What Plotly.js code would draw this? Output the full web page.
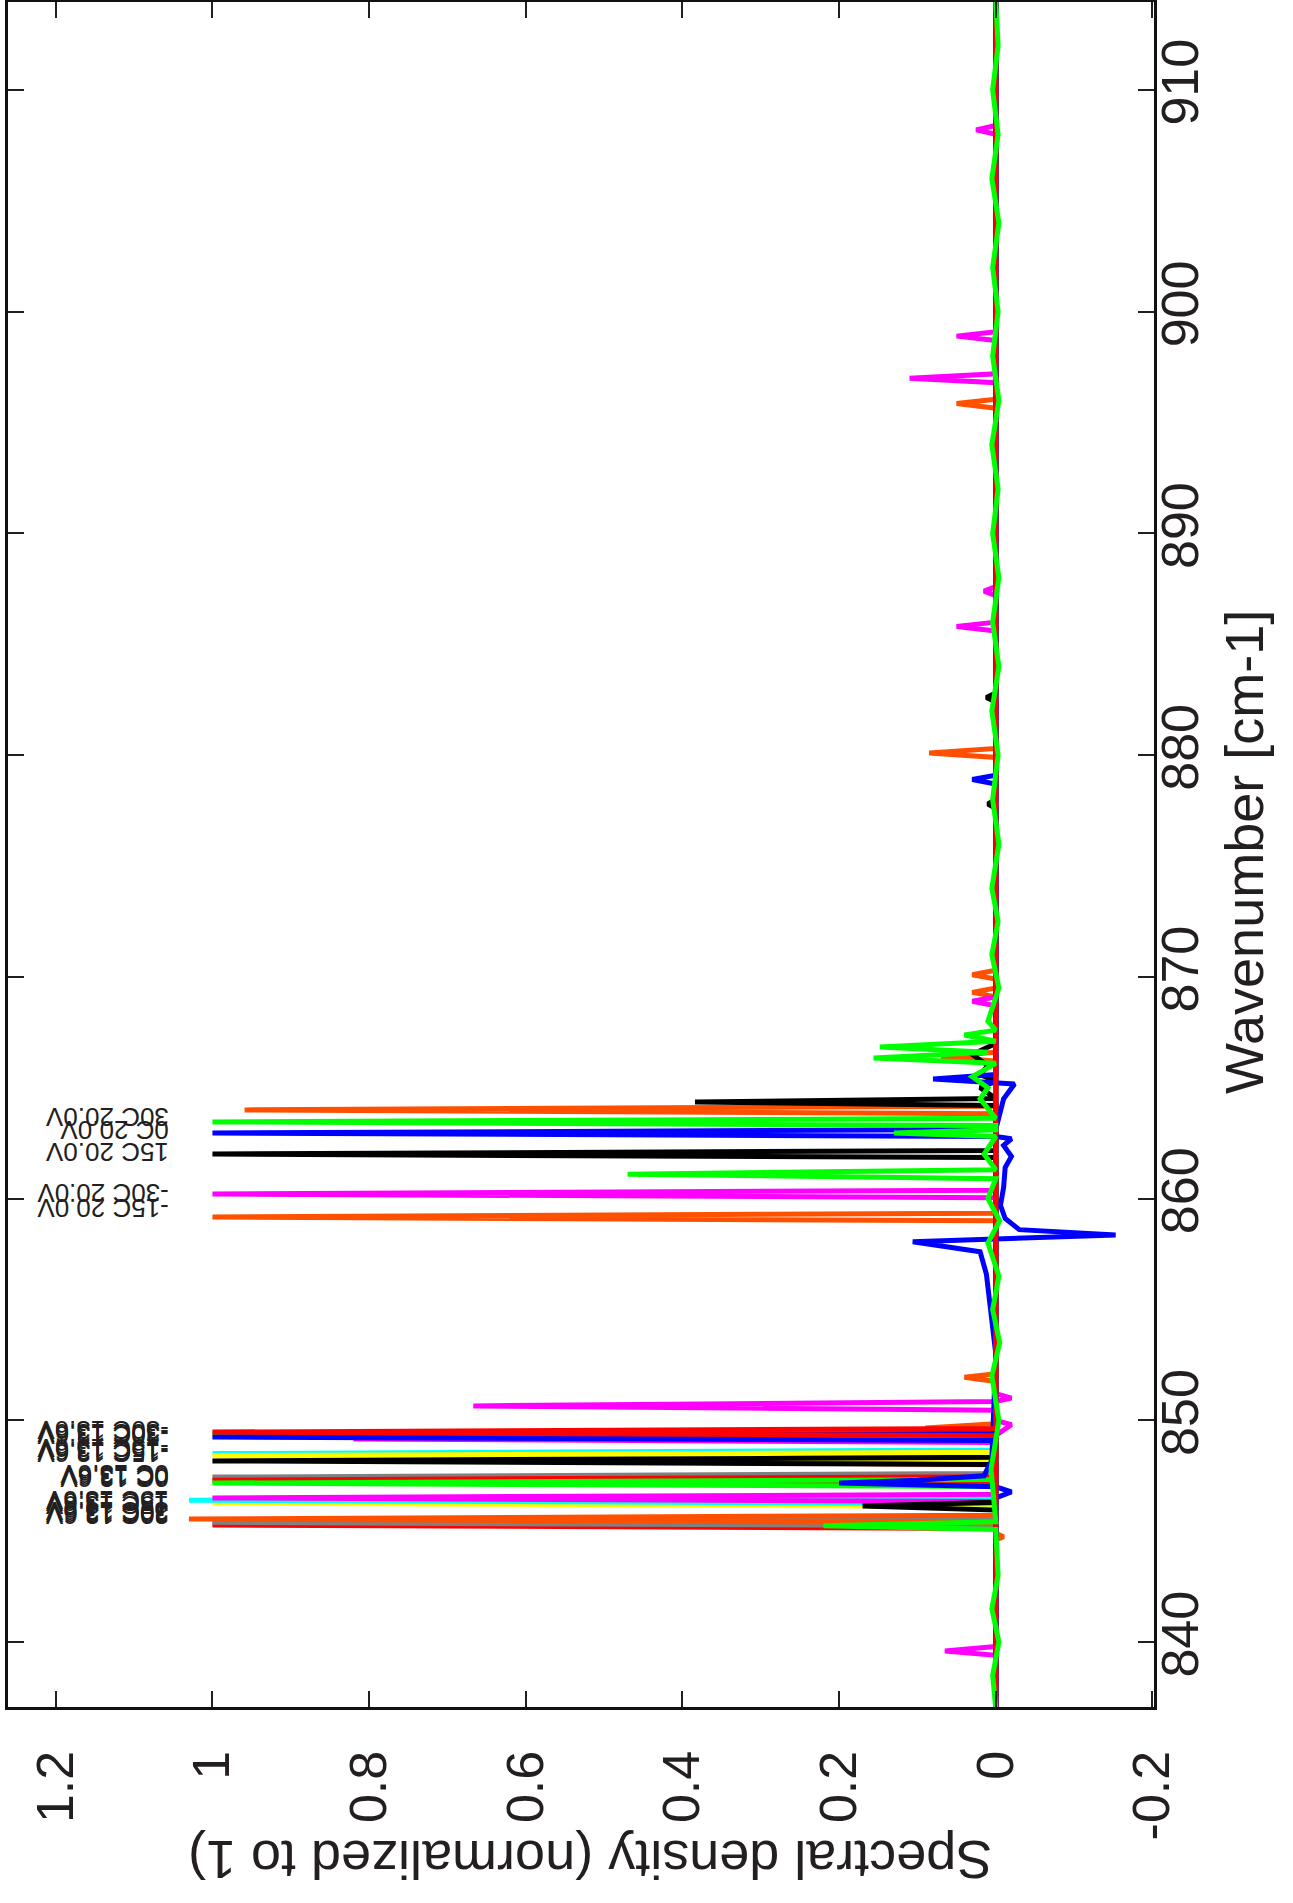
<!DOCTYPE html>
<html>
<head>
<meta charset="utf-8">
<script src="https://cdn.plot.ly/plotly-3.0.1.min.js"></script>
<style>
  body { margin: 0; background: white; }
  #graph { width: 1293px; height: 1903px; }
</style>
</head>
<body>
<div id="graph"></div>
<script>
// spectra: wavenumber (cm-1) and normalized spectral density
// 13.6V runs
var wn_red30 = [837, 845.12, 845.28, 845.44, 914];
var sd_red30 = [0, 0, 1, 0, 0];
var wn_gray30 = [837, 845.24, 845.40, 845.56, 914];
var sd_gray30 = [0, 0, 1, 0, 0];
var wn_orange30 = [837, 844.6, 844.75, 844.9, 845.38, 845.55, 845.72, 848.0, 848.15, 848.3, 849.45, 849.65, 849.85, 914];
var sd_orange30 = [0, 0, -0.01, 0, 0, 1.03, 0, 0, 0.553, 0, 0, 0.09, 0, 0];
var wn_yellow15 = [837, 846.11, 846.27, 846.43, 914];
var sd_yellow15 = [0, 0, 1, 0, 0];
var wn_cyan15 = [837, 846.24, 846.40, 846.56, 914];
var sd_cyan15 = [0, 0, 1.03, 0, 0];
var wn_magenta15 = [837, 846.34, 846.5, 846.66, 849.0, 849.16, 849.32, 849.8, 850.0, 914];
var sd_magenta15 = [0, 0, 1, 0, 0, 0.82, 0, -0.02, 0, 0];
var wn_gray0 = [837, 847.28, 847.44, 847.60, 914];
var sd_gray0 = [0, 0, 1, 0, 0];
var wn_red0 = [837, 847.14, 847.30, 847.46, 914];
var sd_red0 = [0, 0, 1, 0, 0];
var wn_green0 = [837, 847.01, 847.17, 847.33, 914];
var sd_green0 = [0, 0, 1, 0, 0];
var wn_cyanm15 = [837, 848.34, 848.5, 848.66, 914];
var sd_cyanm15 = [0, 0, 1, 0, 0];
var wn_yellowm15 = [837, 848.24, 848.4, 848.56, 914];
var sd_yellowm15 = [0, 0, 1, 0, 0];
var wn_blackm15 = [837, 848.01, 848.17, 848.33, 914];
var sd_blackm15 = [0, 0, 1, 0, 0];
var wn_redm30 = [837, 849.31, 849.47, 849.63, 914];
var sd_redm30 = [0, 0, 1, 0, 0];
var wn_greenm30 = [837, 849.22, 849.38, 849.54, 914];
var sd_greenm30 = [0, 0, 1, 0, 0];
var wn_bluem30 = [837, 849.09, 849.25, 849.41, 914];
var sd_bluem30 = [0, 0, 1, 0, 0];

// 20.0V runs
var wn_orange20 = [837, 851.75, 851.94, 852.1, 859.0, 859.17, 859.34, 863.83, 864.0, 864.17, 866.2, 866.4, 866.6,
    869.1, 869.3, 869.5, 869.9, 870.1, 870.3, 879.9, 880.1, 880.3, 895.65, 895.86, 896.05, 914];
var sd_orange20 = [0, 0, 0.04, 0, 0, 1, 0, 0, 0.959, 0, 0, 0.07, 0,
    0, 0.03, 0, 0, 0.03, 0, 0, 0.085, 0, 0, 0.05, 0, 0];
var wn_magenta20 = [837, 839.4, 839.6, 839.8, 850.45, 850.65, 850.85, 851.0, 851.2, 860.04, 860.21, 860.38,
    868.7, 868.9, 869.1, 885.6, 885.8, 886.0, 887.2, 887.4, 887.6, 896.8, 897.0, 897.2,
    898.7, 898.9, 899.1, 908.0, 908.2, 908.4, 914];
var sd_magenta20 = [0, 0, 0.065, 0, 0, 0.667, 0, -0.02, 0, 0, 1, 0,
    0, 0.03, 0, 0, 0.05, 0, 0, 0.015, 0, 0, 0.11, 0,
    0, 0.05, 0, 0, 0.025, 0, 0];
var wn_black20 = [837, 845.95, 846.13, 846.3, 861.85, 862.01, 862.17, 864.2, 864.36, 864.52, 865.0, 865.3, 865.6,
    866.0, 866.5, 867.0, 877.6, 877.8, 878.0, 882.4, 882.6, 882.8, 914];
var sd_black20 = [0, 0, 0.17, 0, 0, 1, 0, 0, 0.384, 0, 0.02, 0, 0.02,
    0.01, 0.03, 0, 0, 0.01, 0, 0, 0.012, 0, 0];
var wn_blue20 = [837, 846.5, 846.77, 847.0, 847.17, 847.3, 847.5, 848.2, 853.0, 856.6, 857.6, 858.05, 858.36, 858.6,
    859.1, 859.7, 860.5, 861.4, 861.9, 862.4, 862.7, 862.8, 862.96, 863.12, 864.5, 865.17, 865.4, 865.6,
    878.7, 878.9, 879.1, 914];
var sd_blue20 = [0, 0, -0.02, 0, 0.2, 0.1, 0.015, 0.005, 0, 0.012, 0.02, 0.106, -0.153, -0.03,
    -0.012, -0.006, -0.01, -0.012, -0.02, -0.01, -0.02, 0, 1, 0, -0.01, -0.024, 0.08, 0,
    0, 0.03, 0, 0];
var wn_green20 = [837, 838.5, 840, 841.5, 843, 845.08, 845.25, 845.42, 847.8, 850, 852, 853.5, 855, 856.5,
    858, 859, 860, 860.9, 861.1, 861.3, 862,
    862.8, 862.96, 863.1, 863.3, 863.46, 863.62, 864.5, 865, 865.5, 866.1, 866.34, 866.6, 866.84, 867.1,
    867.38, 867.6, 868, 869.5, 871, 872.5, 874, 876, 878, 880, 882, 884, 886, 888, 890, 892, 894,
    896, 898, 900, 902, 904, 906, 908, 910, 912, 914];
var sd_green20 = [0, 0.004, -0.004, 0.005, -0.003, 0, 0.22, 0, 0.006, -0.004, 0.005, -0.005, 0.004, -0.004,
    0.01, -0.005, 0.01, 0, 0.47, 0, 0.015,
    0, 0.13, 0, 0, 1, 0, 0.02, 0.01, 0.03, 0, 0.156, 0.01, 0.148, 0,
    0.04, 0, 0.01, -0.004, 0.005, -0.003, 0.005, -0.004, 0.004, -0.003, 0.005, -0.004, 0.004, -0.004, 0.004,
    -0.003, 0.005, -0.004, 0.004, -0.003, 0.004, -0.004, 0.005, -0.003, 0.004, -0.003, 0];

// peak labels: text and wavenumber where it sits
var labels_text = ["30C 13.6V", "15C 13.6V", "0C 13.6V", "-15C 13.6V", "-30C 13.6V",
    "-15C 20.0V", "-30C 20.0V", "15C 20.0V", "0C 20.0V", "30C 20.0V"];
var labels_wn = [845.82, 846.31, 847.49, 848.62, 849.43, 859.58, 860.25, 862.10, 863.09, 863.68];

var xTicks = [1.2, 1, 0.8, 0.6, 0.4, 0.2, 0, -0.2];
var xTickText = ["1.2", "1", "0.8", "0.6", "0.4", "0.2", "0", "-0.2"];
var yTicks = [840, 850, 860, 870, 880, 890, 900, 910];

var series = [
    [wn_red30, sd_red30, 'rgb(255,0,0)'],
    [wn_gray30, sd_gray30, 'rgb(128,128,128)'],
    [wn_orange30, sd_orange30, 'rgb(255,80,0)'],
    [wn_yellow15, sd_yellow15, 'rgb(255,255,0)'],
    [wn_cyan15, sd_cyan15, 'rgb(0,255,255)'],
    [wn_magenta15, sd_magenta15, 'rgb(255,0,255)'],
    [wn_gray0, sd_gray0, 'rgb(128,128,128)'],
    [wn_red0, sd_red0, 'rgb(255,0,0)'],
    [wn_green0, sd_green0, 'rgb(0,255,0)'],
    [wn_cyanm15, sd_cyanm15, 'rgb(0,255,255)'],
    [wn_yellowm15, sd_yellowm15, 'rgb(255,255,0)'],
    [wn_blackm15, sd_blackm15, 'rgb(0,0,0)'],
    [wn_greenm30, sd_greenm30, 'rgb(0,255,0)'],
    [wn_bluem30, sd_bluem30, 'rgb(0,0,255)'],
    [wn_orange20, sd_orange20, 'rgb(255,80,0)'],
    [wn_magenta20, sd_magenta20, 'rgb(255,0,255)'],
    [wn_black20, sd_black20, 'rgb(0,0,0)'],
    [wn_blue20, sd_blue20, 'rgb(0,0,255)'],
    [wn_redm30, sd_redm30, 'rgb(255,0,0)'],
    [wn_green20, sd_green20, 'rgb(0,255,0)']
];

var data = [];
series.forEach(s => data.push({
    x: s[1],
    y: s[0],
    type: 'scatter',
    mode: 'lines',
    line: { color: s[2], width: 5 },
    showlegend: false,
    hoverinfo: 'skip'
}));

var textFont = { family: 'Liberation Sans, Arial, sans-serif', color: '#231f20' };

var annotations = [];
for (var i = 0; i < labels_text.length; i++) {
    // the 13.6V labels are printed three times, slightly shifted
    var shifts = labels_text[i].indexOf('13.6V') >= 0 ? [-0.1, 0, 0.1] : [0];
    shifts.forEach(function (d) {
        annotations.push({
            x: 1.053, y: labels_wn[i] + d,
            xref: 'x', yref: 'y',
            text: labels_text[i],
            showarrow: false,
            textangle: 180,
            xanchor: 'right', yanchor: 'middle',
            font: Object.assign({ size: 26 }, textFont)
        });
    });
}
// axis titles, turned like the rest of the figure
annotations.push({
    x: 1.0785, y: 0.5015, xref: 'paper', yref: 'paper',
    text: 'Wavenumber [cm-1]', showarrow: false, textangle: -90,
    xanchor: 'center', yanchor: 'middle',
    font: Object.assign({ size: 54 }, textFont)
});
annotations.push({
    x: 0.508, y: -0.0897, xref: 'paper', yref: 'paper',
    text: 'Spectral density (normalized to 1)', showarrow: false, textangle: 180,
    xanchor: 'center', yanchor: 'middle',
    font: Object.assign({ size: 54 }, textFont)
});

var layout = {
    width: 1293,
    height: 1903,
    margin: { l: 8, r: 139, t: 2, b: 196 },
    paper_bgcolor: 'white',
    plot_bgcolor: 'white',
    font: textFont,
    xaxis: {
        range: [1.261, -0.202],
        tickvals: xTicks,
        ticktext: xTickText,
        tickangle: -90,
        ticks: 'inside',
        ticklen: 16,
        tickwidth: 2,
        tickcolor: '#231f20',
        showline: true,
        linecolor: '#111',
        linewidth: 3,
        mirror: 'allticks',
        showgrid: false,
        zeroline: false,
        ticklabelstandoff: 20,
        tickfont: { size: 52, family: 'Liberation Sans, Arial, sans-serif', color: '#231f20' }
    },
    yaxis: {
        range: [837.07, 913.97],
        side: 'right',
        tickvals: yTicks,
        tickangle: -90,
        ticks: 'inside',
        ticklen: 16,
        tickwidth: 2,
        tickcolor: '#231f20',
        showline: true,
        linecolor: '#111',
        linewidth: 3,
        mirror: 'allticks',
        showgrid: false,
        zeroline: false,
        ticklabelstandoff: -21,
        tickfont: { size: 52, family: 'Liberation Sans, Arial, sans-serif', color: '#231f20' }
    },
    annotations: annotations
};

Plotly.newPlot('graph', data, layout, { staticPlot: true });
</script>
</body>
</html>
